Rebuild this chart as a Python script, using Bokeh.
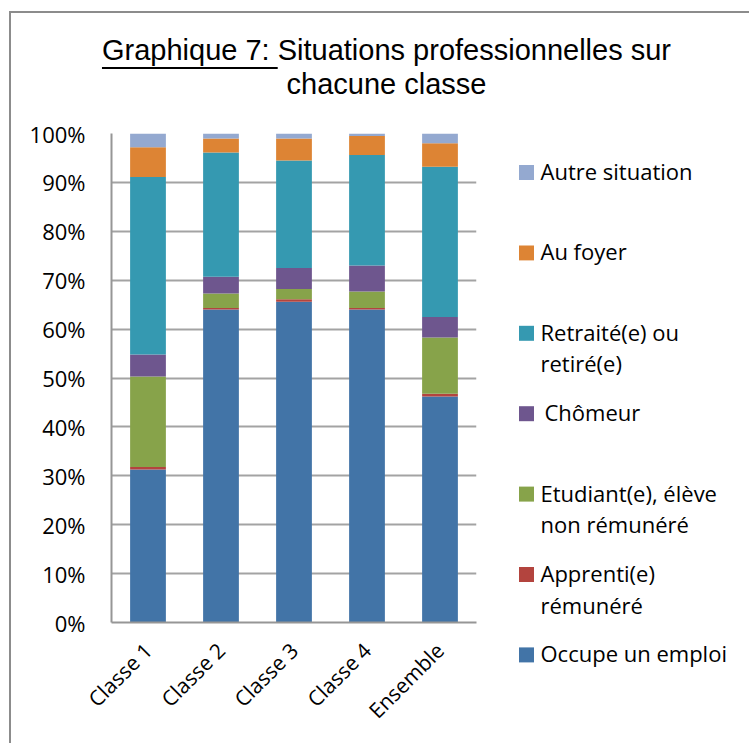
import math
from bokeh.plotting import figure
from bokeh.layouts import column, row
from bokeh.models import ColumnDataSource, Div, PrintfTickFormatter, FixedTicker, Range1d
from bokeh.core.properties import value
from bokeh.embed import file_html
from bokeh.resources import INLINE

# ---------------- data ----------------
categories = ["Classe 1", "Classe 2", "Classe 3", "Classe 4", "Ensemble"]
occupe = [31.3, 64.0, 65.6, 64.0, 46.2]
apprenti = [0.5, 0.3, 0.5, 0.3, 0.6]
etudiant = [18.5, 3.0, 2.1, 3.4, 11.5]
chomeur = [4.5, 3.4, 4.3, 5.3, 4.2]
retraite = [36.3, 25.4, 22.0, 22.6, 30.7]
foyer = [6.1, 2.9, 4.5, 3.9, 4.8]
autre = [2.8, 1.0, 1.0, 0.5, 2.0]

series_keys = ["occupe", "apprenti", "etudiant", "chomeur", "retraite", "foyer", "autre"]
series_labels = [
    ["Occupe un emploi"],
    ["Apprenti(e)", "rémunéré"],
    ["Etudiant(e), élève", "non rémunéré"],
    ["Chômeur"],
    ["Retraité(e) ou", "retiré(e)"],
    ["Au foyer"],
    ["Autre situation"],
]
colors = ["#4274a7", "#b3443e", "#87a34a", "#6e568e", "#3599b1", "#dd8434", "#94a9d0"]
y_ticks = [0, 10, 20, 30, 40, 50, 60, 70, 80, 90, 100]
title_underlined = "Graphique 7: "
title_rest = "Situations professionnelles sur"
title_line2 = "chacune classe"

# ---------------- layout (page pixels) ----------------
OX, OY = 11.5, 13.5          # content origin inside the bordered box
W_ALL = 738
DIV_H = 100
FIG_H = 630
MAIN_W = 466
FL, FT, FW, FH = 100, 20, 365, 489
LEG_W = W_ALL - MAIN_W
TEXT_FONT = "Open Sans"

source = ColumnDataSource(dict(cat=categories, occupe=occupe, apprenti=apprenti,
                               etudiant=etudiant, chomeur=chomeur, retraite=retraite,
                               foyer=foyer, autre=autre))

p = figure(x_range=categories, y_range=Range1d(0, 100), width=MAIN_W, height=FIG_H,
           output_backend="svg", toolbar_location=None,
           min_border_left=FL, min_border_top=FT,
           min_border_right=MAIN_W - FL - FW, min_border_bottom=FIG_H - FT - FH)
p.outline_line_color = None

p.vbar_stack(series_keys, x="cat", width=0.49, color=colors, line_color=None, source=source)

p.xgrid.grid_line_color = None
p.ygrid.grid_line_color = "#a3a3a3"
p.ygrid.grid_line_width = 2
p.yaxis.ticker = FixedTicker(ticks=y_ticks)
p.yaxis.formatter = PrintfTickFormatter(format="%d%%")
for ax in (p.xaxis[0], p.yaxis[0]):
    ax.axis_line_color = "#969696"
    ax.axis_line_width = 2
    ax.major_tick_line_color = None
    ax.minor_tick_line_color = None
    ax.major_tick_out = 0
    ax.major_tick_in = 0
    ax.major_label_text_font = TEXT_FONT
    ax.major_label_text_color = "#000000"
p.yaxis.major_label_text_font_size = "22px"
p.xaxis.major_label_text_font_size = "21px"
p.yaxis.major_label_standoff = 26
p.xaxis.major_label_standoff = 24
p.xaxis.major_label_orientation = math.pi / 4

# ---------------- legend panel (ranges mapped 1:1 to page pixels) ----------------
leg_left = OX + MAIN_W
leg_top = OY + DIV_H
q = figure(width=LEG_W, height=FIG_H, output_backend="svg", toolbar_location=None,
           x_range=Range1d(leg_left, leg_left + LEG_W),
           y_range=Range1d(leg_top + FIG_H, leg_top),
           x_axis_location=None, y_axis_location=None, min_border=0)
q.grid.visible = False
q.outline_line_color = None
for fig in (p, q):
    if "frame_align" in fig.properties():
        fig.frame_align = False

SQ_LEFT, SQ = 519, 15
TXT_X = 540.5
FIRST_BOTTOM, PITCH, LINE_GAP = 180, 80.4, 31.5
TXT_SHIFT = -9
sq_x, sq_y, sq_c = [], [], []
tx, ty, tt = [], [], []
for i, k in enumerate(reversed(range(len(series_keys)))):
    bottom = FIRST_BOTTOM + i * PITCH
    sq_x.append(SQ_LEFT + SQ / 2)
    sq_y.append(bottom - SQ / 2)
    sq_c.append(colors[k])
    nudge = 4 if series_keys[k] == "chomeur" else 0
    for j, line in enumerate(series_labels[k]):
        tx.append(TXT_X + nudge)
        ty.append(bottom + TXT_SHIFT + j * LINE_GAP)
        tt.append(line)
q.rect(x=sq_x, y=sq_y, width=SQ, height=SQ, fill_color=sq_c, line_color=None)
q.text(x=tx, y=ty, text=tt, text_font=value(TEXT_FONT), text_font_size="22px",
       text_baseline="alphabetic", text_align="left", text_color="#000000")

# ---------------- title ----------------
title_html = (
    '<div style="font-family:\'Liberation Sans\';font-size:29px;line-height:34.5px;'
    'color:#000;white-space:nowrap;width:751px;text-align:center;padding-top:19.5px;">'
    f'<u style="text-decoration-thickness:2px;text-underline-offset:7px;">{title_underlined}</u>'
    f'{title_rest}<br>{title_line2}</div>'
)
title_div = Div(text=title_html, width=W_ALL, height=DIV_H, margin=0)

page = column(title_div, row(p, q, spacing=0, margin=0), spacing=0, margin=0,
              styles={"margin-left": "9px", "margin-top": "11px",
                      "border-left": "2.5px solid #8c8c8c",
                      "border-top": "2.5px solid #8c8c8c"})

open("out.html", "w").write(file_html(page, INLINE))
